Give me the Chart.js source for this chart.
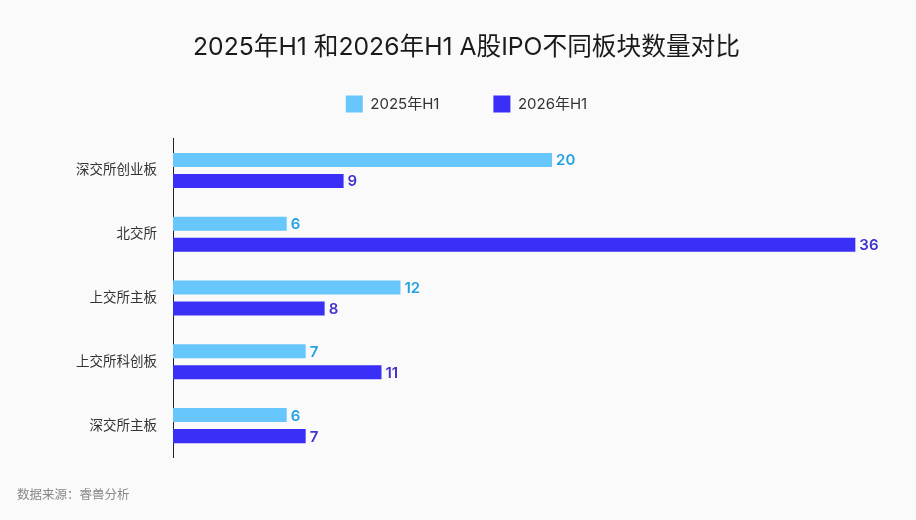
<!DOCTYPE html>
<html>
<head>
<meta charset="utf-8">
<script src="https://cdn.jsdelivr.net/npm/chart.js@4"></script>
<style>
  html, body { margin: 0; padding: 0; background: #fafafa; }
  .chart-wrapper { width: 916px; height: 520px; position: relative; }
</style>
</head>
<body>
<div class="chart-wrapper">
  <canvas id="chart"></canvas>
</div>
<script>
// Data
const boards = ['深交所创业板', '北交所', '上交所主板', '上交所科创板', '深交所主板'];
const ipo2025H1 = [20, 6, 12, 7, 6];
const ipo2026H1 = [9, 36, 8, 11, 7];
const seriesNames = ['2025年H1', '2026年H1'];

const FONT = 'Inter, "Noto Sans CJK SC", "Noto Sans", sans-serif';

// Value labels at the end of each bar
const barLabels = {
    id: 'barLabels',
    afterDatasetsDraw(chart) {
        const ctx = chart.ctx;
        ctx.save();
        ctx.font = '600 15px ' + FONT;
        ctx.textAlign = 'left';
        ctx.textBaseline = 'middle';
        chart.data.datasets.forEach((ds, i) => {
            const meta = chart.getDatasetMeta(i);
            ctx.fillStyle = ds.labelColor;
            meta.data.forEach((bar, j) => {
                ctx.fillText(ds.data[j], bar.x + 4, bar.y + 1);
            });
        });
        ctx.restore();
    }
};

new Chart(document.getElementById('chart'), {
    type: 'bar',
    data: {
        labels: boards,
        datasets: [
            {
                label: seriesNames[0],
                data: ipo2025H1,
                backgroundColor: '#67c6fc',
                labelColor: '#23a2e2',
                categoryPercentage: 0.66,
                barPercentage: 0.667,
            },
            {
                label: seriesNames[1],
                data: ipo2026H1,
                backgroundColor: '#3a2ff6',
                labelColor: '#4233cc',
                categoryPercentage: 0.66,
                barPercentage: 0.667,
            },
        ],
    },
    options: {
        indexAxis: 'y',
        responsive: true,
        maintainAspectRatio: false,
        animation: false,
        layout: { padding: { left: 17, right: 0, top: 0, bottom: 0 } },
        plugins: {
            title: {
                display: true,
                text: '2025年H1 和2026年H1 A股IPO不同板块数量对比',
                color: '#1a1a1a',
                font: { family: FONT, size: 24.7, weight: 'normal' },
                padding: { top: 32.5, bottom: -20.6 },
            },
            legend: {
                position: 'top',
                labels: {
                    boxWidth: 17,
                    boxHeight: 17,
                    padding: 54,
                    color: '#333',
                    font: { family: FONT, size: 15 },
                },
            },
            subtitle: {
                display: true,
                position: 'bottom',
                align: 'start',
                text: '数据来源：睿兽分析',
                color: '#888',
                font: { family: FONT, size: 12.5, weight: 'normal' },
                padding: { top: 30.5, bottom: 17 },
            },
            tooltip: { enabled: false },
        },
        scales: {
            x: {
                position: 'top',
                min: 0,
                max: 39.2,
                ticks: { display: false },
                grid: { display: false, drawTicks: true, tickLength: 16 },
                border: { display: false },
            },
            y: {
                ticks: {
                    color: '#333',
                    padding: 16,
                    font: { family: FONT, size: 13.5 },
                },
                grid: { display: false, drawTicks: false },
                border: { display: true, color: '#222', width: 1 },
                afterFit: (scale) => { scale.width = 156; },
            },
        },
    },
    plugins: [barLabels],
});
</script>
</body>
</html>
